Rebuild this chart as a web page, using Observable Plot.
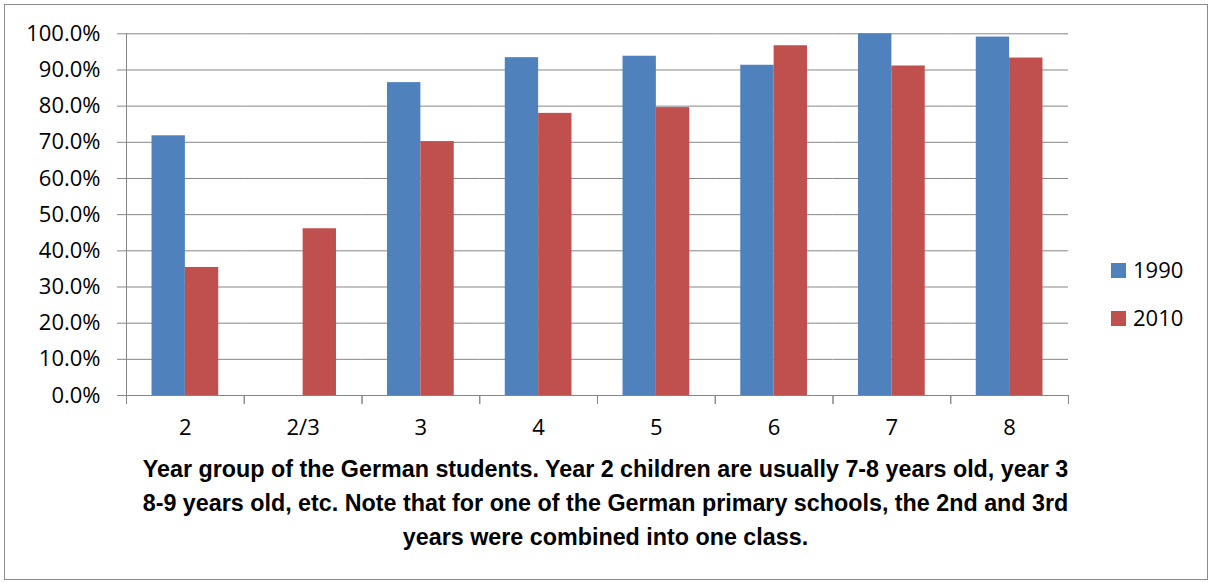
<!DOCTYPE html>
<html>
<head>
<meta charset="utf-8">
<script src="https://cdn.jsdelivr.net/npm/d3@7"></script>
<script src="https://cdn.jsdelivr.net/npm/@observablehq/plot@0.6"></script>
<style>
  body { margin: 0; background: #fff; }
  #wrap { position: relative; width: 1211px; height: 583px; font-family: "Open Sans", sans-serif; color: #000; }
  #border { position: absolute; left: 4px; top: 4px; width: 1204px; height: 576px; border: 1px solid #8a8a8a; box-sizing: border-box; }
  #chart { position: absolute; left: 0; top: 0; }
  .leg { position: absolute; left: 1111px; font-size: 22px; line-height: 22px; white-space: nowrap; }
  .leg .sw { display: inline-block; width: 15px; height: 15px; vertical-align: baseline; margin-right: 7px; }
  #caption { position: absolute; left: 0; width: 1211px; top: 452px; text-align: center;
             font-family: "Liberation Sans", sans-serif; font-weight: bold; font-size: 23.3px; line-height: 34px; }
</style>
</head>
<body>
<div id="wrap">
  <div id="border"></div>
  <div id="chart"></div>
  <div id="legend"></div>
  <div id="caption"></div>
</div>
<script>
const categories = ["2", "2/3", "3", "4", "5", "6", "7", "8"];
const seriesNames = ["1990", "2010"];
const seriesColors = ["#4F81BD", "#C0504D"];
const values1990 = [71.8, null, 86.5, 93.4, 93.8, 91.3, 100.0, 99.1];
const values2010 = [35.4, 46.1, 70.2, 78.0, 79.6, 96.7, 91.1, 93.3];
const yTicks = [0, 0.1, 0.2, 0.3, 0.4, 0.5, 0.6, 0.7, 0.8, 0.9, 1.0];
const captionLines = [
  "Year group of the German students. Year 2 children are usually 7-8 years old, year 3",
  "8-9 years old, etc. Note that for one of the German primary schools, the 2nd and 3rd",
  "years were combined into one class."
];

const rows = [];
categories.forEach((c, i) => {
  [values1990, values2010].forEach((arr, s) => {
    if (arr[i] != null) rows.push({cat: c, series: seriesNames[s], value: arr[i] / 100});
  });
});

const gridColor = "#868686";
const H = 450, mTop = 33.3, mBottom = 55;

const chart = Plot.plot({
  width: 1211,
  height: H,
  marginLeft: 126,
  marginRight: 143,
  marginTop: mTop,
  marginBottom: mBottom,
  style: {fontFamily: "'Open Sans', sans-serif", fontSize: "22px", color: "#000", background: "transparent"},
  fx: {domain: categories, padding: 0, round: false},
  x: {domain: seriesNames, paddingInner: 0, paddingOuter: 0.765, round: false, axis: null},
  y: {domain: [0, 1]},
  color: {domain: seriesNames, range: seriesColors},
  marks: [
    Plot.gridY(yTicks, {stroke: gridColor, strokeOpacity: 1, strokeWidth: 1}),
    Plot.barY(rows, {fx: "cat", x: "series", y: "value", fill: "series"}),
    Plot.frame({anchor: "left", stroke: gridColor, insetTop: H - mTop - mBottom, insetBottom: -8}),
    Plot.frame({anchor: "right", stroke: gridColor, insetTop: H - mTop - mBottom, insetBottom: -8}),
    Plot.frame({anchor: "left", stroke: gridColor, fx: () => categories[0]}),
    Plot.axisY(yTicks, {tickFormat: d3.format(".1%"), tickSize: 9, tickPadding: 17, stroke: gridColor, fill: "#000", label: null}),
    Plot.axisFx({anchor: "bottom", tickSize: 0, tickPadding: 24, label: null, fill: "#000"})
  ]
});
document.getElementById("chart").appendChild(chart);

const legend = document.getElementById("legend");
seriesNames.forEach((name, i) => {
  const d = document.createElement("div");
  d.className = "leg";
  d.style.top = (258 + i * 48) + "px";
  d.innerHTML = `<span class="sw" style="background:${seriesColors[i]}"></span>${name}`;
  legend.appendChild(d);
});

document.getElementById("caption").innerHTML = captionLines.join("<br>");
</script>
</body>
</html>
